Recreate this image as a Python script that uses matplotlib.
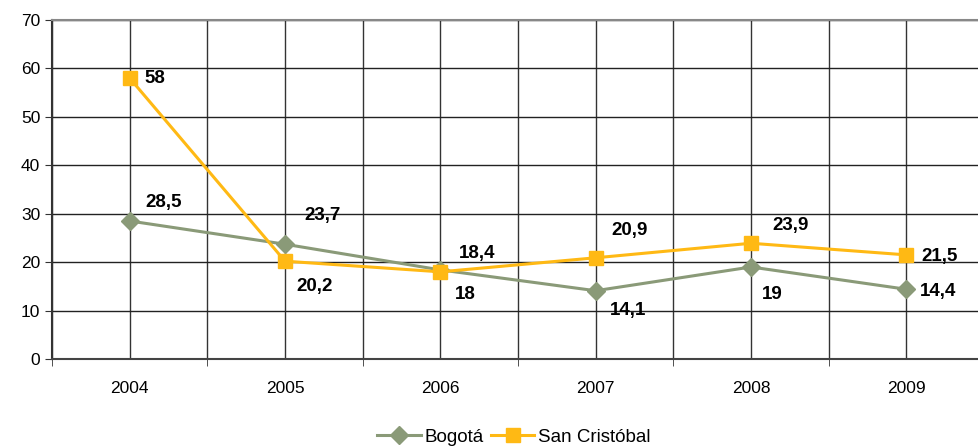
import numpy as np
import matplotlib
matplotlib.use('Agg')
import matplotlib.pyplot as plt
from matplotlib.ticker import MultipleLocator

plt.rcParams['font.family'] = ['Liberation Sans', 'DejaVu Sans']

years = ['2004', '2005', '2006', '2007', '2008', '2009']
bogota = [28.5, 23.7, 18.4, 14.1, 19, 14.4]
san_cristobal = [58, 20.2, 18, 20.9, 23.9, 21.5]
bogota_lbls = ['28,5', '23,7', '18,4', '14,1', '19', '14,4']
sc_lbls = ['58', '20,2', '18', '20,9', '23,9', '21,5']

# label offsets in pixels (dx, dy)
bog_off = [(34, 18), (38, 29), (37, 16), (32, -20), (21, -28), (32, -2)]
sc_off = [(25, 0), (30, -25), (25, -23), (34, 27), (40, 18), (33, -2)]

green = '#8a9a78'
gold = '#ffb914'

fig = plt.figure(figsize=(9.79, 4.48), dpi=100)
ax = fig.add_axes([52/979, 89/448, 932/979, 339/448])

x = np.arange(len(years))
ax.plot(x, bogota, color=green, lw=2.2, marker='D', ms=9, label='Bogotá', zorder=3)
ax.plot(x, san_cristobal, color=gold, lw=2.2, marker='s', ms=10, label='San Cristóbal', zorder=4)

for i in range(len(years)):
    ax.annotate(bogota_lbls[i], (x[i], bogota[i]), xytext=bog_off[i], textcoords='offset pixels',
                ha='center', va='center', fontsize=13.5, fontweight='bold')
    ax.annotate(sc_lbls[i], (x[i], san_cristobal[i]), xytext=sc_off[i], textcoords='offset pixels',
                ha='center', va='center', fontsize=13.5, fontweight='bold')

ax.set_xlim(-0.5, 5.5)
ax.set_ylim(0, 70)
ax.yaxis.set_major_locator(MultipleLocator(10))

# gridlines at categories and between them
ax.set_xticks(x)
ax.set_xticklabels(years, fontsize=12.5)
ax.set_xticks(np.arange(-0.5, 6, 1), minor=True)
ax.grid(True, axis='y', color='#222222', lw=1)
ax.grid(True, axis='x', which='both', color='#333333', lw=1)
ax.set_axisbelow(True)
ax.tick_params(axis='x', which='major', length=0, pad=16)
ax.tick_params(axis='x', which='minor', length=5, color='#333333')
ax.tick_params(axis='y', length=5, labelsize=12.5, color='#333333')

ax.spines['top'].set_color('#888888')
ax.spines['top'].set_linewidth(1.5)
ax.spines['right'].set_visible(False)
ax.spines['left'].set_color('#333333')
ax.spines['left'].set_linewidth(1.5)
ax.spines['bottom'].set_color('#444444')
ax.spines['bottom'].set_linewidth(1.5)

fig.legend(loc='center', bbox_to_anchor=(514/979, 1 - 437/448), ncol=2, frameon=False,
           fontsize=13.5, handlelength=2.3, columnspacing=0.4, handletextpad=0.2)

fig.savefig('out.png', dpi=100)
